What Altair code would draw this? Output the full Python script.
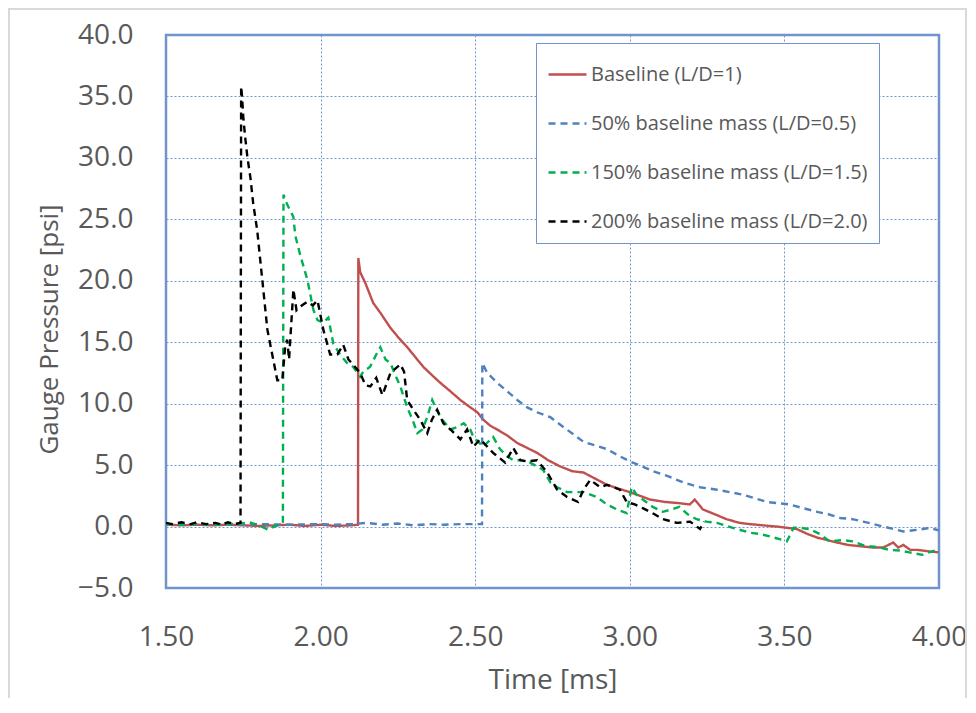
import altair as alt
import pandas as pd

# ---- data ----
series_names = [
    "Baseline (L/D=1)",
    "50% baseline mass (L/D=0.5)",
    "150% baseline mass (L/D=1.5)",
    "200% baseline mass (L/D=2.0)",
]
series_colors = ["#C0504D", "#4F81BD", "#00B050", "#000000"]
series_dash = [[1, 0], [7, 5], [7, 5], [7, 5]]

t_base = [1.50, 1.55, 1.60, 1.65, 1.70, 1.75, 1.80, 1.85, 1.90, 1.95, 2.00, 2.05, 2.10, 2.121,
          2.122, 2.128, 2.145, 2.17, 2.193, 2.225, 2.251, 2.28, 2.306, 2.332, 2.361, 2.387, 2.42,
          2.452, 2.484, 2.507, 2.526, 2.549, 2.571, 2.604, 2.636, 2.668, 2.70, 2.736, 2.774, 2.814,
          2.85, 2.888, 2.926, 2.962, 3.0, 3.033, 3.065, 3.114, 3.162, 3.194, 3.21, 3.236, 3.275,
          3.313, 3.355, 3.388, 3.43, 3.475, 3.508, 3.54, 3.574, 3.606, 3.638, 3.671, 3.706, 3.745,
          3.784, 3.82, 3.852, 3.868, 3.885, 3.907, 3.93, 3.962, 3.998]
p_base = [0.15, 0.1, 0.15, 0.1, 0.15, 0.1, 0.05, 0.1, 0.15, 0.05, 0.15, 0.05, 0.1, 0.15,
          21.85, 20.7, 19.8, 18.2, 17.4, 16.2, 15.4, 14.6, 13.8, 13.0, 12.3, 11.7, 11.0,
          10.3, 9.7, 9.3, 8.7, 8.2, 7.9, 7.4, 6.8, 6.4, 6.0, 5.4, 4.9, 4.5,
          4.4, 3.9, 3.4, 3.1, 2.8, 2.5, 2.2, 2.0, 1.9, 1.8, 2.2, 1.4, 1.0,
          0.6, 0.3, 0.2, 0.1, 0.0, -0.1, -0.2, -0.6, -0.9, -1.1, -1.3, -1.5, -1.6,
          -1.7, -1.7, -1.3, -1.7, -1.5, -1.9, -1.9, -2.0, -2.1]

t_50 = [1.50, 1.60, 1.70, 1.80, 1.90, 2.00, 2.05, 2.10, 2.15, 2.20, 2.25, 2.30, 2.35, 2.40,
        2.45, 2.50, 2.522, 2.523, 2.539, 2.571, 2.604, 2.636, 2.668, 2.70, 2.743, 2.785, 2.818,
        2.85, 2.888, 2.926, 2.962, 3.0, 3.04, 3.075, 3.123, 3.172, 3.227, 3.282, 3.323, 3.365,
        3.404, 3.443, 3.479, 3.516, 3.56, 3.606, 3.642, 3.68, 3.72, 3.755, 3.788, 3.82, 3.852,
        3.885, 3.917, 3.95, 3.97, 3.998]
p_50 = [0.2, 0.2, 0.15, 0.2, 0.15, 0.2, 0.15, 0.2, 0.3, 0.15, 0.25, 0.1, 0.2, 0.15,
        0.2, 0.2, 0.2, 13.3, 12.5, 11.7, 11.0, 10.3, 9.7, 9.3, 8.9, 8.1, 7.5,
        6.9, 6.6, 6.3, 5.8, 5.3, 4.9, 4.5, 4.1, 3.6, 3.2, 3.0, 2.8, 2.6,
        2.3, 2.0, 1.9, 1.8, 1.5, 1.2, 1.0, 0.7, 0.6, 0.4, 0.2, 0.0, -0.2,
        -0.4, -0.3, -0.2, -0.1, -0.3]

t_150 = [1.50, 1.55, 1.60, 1.65, 1.70, 1.74, 1.77, 1.80, 1.83, 1.85, 1.87, 1.878,
         1.880, 1.892, 1.912, 1.918, 1.934, 1.957, 1.977, 1.99, 2.009, 2.025, 2.041, 2.063,
         2.086, 2.105, 2.128, 2.138, 2.16, 2.18, 2.193, 2.21, 2.226, 2.242, 2.258, 2.28, 2.297,
         2.313, 2.329, 2.345, 2.361, 2.387, 2.42, 2.442, 2.463, 2.484, 2.494, 2.526, 2.558, 2.58,
         2.604, 2.623, 2.646, 2.678, 2.72, 2.743, 2.765, 2.797, 2.85, 2.894, 2.926, 2.958, 2.99,
         3.006, 3.022, 3.042, 3.074, 3.107, 3.136, 3.16, 3.187, 3.216, 3.248, 3.282, 3.333,
         3.388, 3.42, 3.453, 3.508, 3.53, 3.55, 3.58, 3.614, 3.646, 3.688, 3.72, 3.752, 3.775,
         3.807, 3.84, 3.872, 3.904, 3.946, 3.968, 3.995]
p_150 = [0.2, 0.15, 0.2, 0.15, 0.2, 0.25, 0.35, 0.1, -0.25, 0.0, 0.2, 0.3,
         27.0, 26.2, 25.2, 23.7, 22.1, 20.1, 17.6, 16.8, 16.6, 17.0, 14.9, 14.0,
         13.3, 13.0, 12.2, 12.6, 13.0, 14.0, 14.6, 13.6, 13.3, 12.3, 11.4, 9.7, 8.7,
         7.6, 7.9, 8.9, 10.3, 8.9, 7.9, 8.1, 8.4, 7.9, 7.3, 6.5, 7.3, 6.3,
         5.7, 5.4, 5.4, 5.2, 4.6, 3.6, 3.2, 2.8, 2.8, 2.4, 1.8, 1.4, 1.1,
         3.2, 2.6, 2.2, 1.6, 1.2, 1.4, 1.6, 1.0, 0.6, 0.4, 0.3, -0.1,
         -0.5, -0.6, -0.8, -1.2, -0.1, -0.1, -0.2, -0.6, -1.2, -1.1, -1.2, -1.5, -1.6,
         -1.7, -1.9, -1.95, -2.1, -2.3, -2.1, -1.9]

t_200 = [1.50, 1.52, 1.55, 1.58, 1.60, 1.63, 1.66, 1.68, 1.70, 1.72, 1.741,
         1.743, 1.746, 1.75, 1.756, 1.763, 1.773, 1.782, 1.795, 1.828, 1.86, 1.876, 1.886,
         1.892, 1.898, 1.912, 1.922, 1.934, 1.957, 1.975, 1.99, 2.009, 2.031, 2.054, 2.073,
         2.09, 2.128, 2.145, 2.161, 2.18, 2.20, 2.226, 2.258, 2.27, 2.28, 2.30, 2.322, 2.345,
         2.36, 2.377, 2.397, 2.42, 2.452, 2.474, 2.494, 2.516, 2.558, 2.597, 2.623, 2.646,
         2.668, 2.70, 2.733, 2.765, 2.797, 2.833, 2.85, 2.872, 2.904, 2.926, 2.968, 2.99,
         3.016, 3.042, 3.08, 3.107, 3.152, 3.195, 3.227, 3.24]
p_200 = [0.3, 0.2, 0.35, 0.2, 0.35, 0.2, 0.3, 0.15, 0.35, 0.2, 0.3,
         35.8, 35.0, 33.3, 31.7, 30.1, 28.4, 26.3, 24.1, 16.0, 11.9, 11.9, 14.8,
         15.2, 13.6, 19.3, 17.6, 17.9, 18.3, 18.0, 18.4, 16.0, 14.0, 14.0, 14.8,
         13.6, 12.5, 11.5, 11.4, 12.1, 10.7, 12.5, 13.2, 12.6, 10.3, 9.5, 8.7, 7.6,
         8.7, 9.5, 8.4, 7.9, 7.1, 7.9, 6.5, 7.1, 6.0, 5.2, 6.4, 5.4,
         5.3, 5.4, 4.4, 3.0, 2.4, 2.0, 3.0, 3.8, 3.2, 3.4, 3.0, 2.0,
         1.8, 1.5, 1.0, 0.6, 0.3, 0.4, -0.2, 0.4]

x_ticks = [1.5, 2.0, 2.5, 3.0, 3.5, 4.0]
y_ticks = [-5, 0, 5, 10, 15, 20, 25, 30, 35, 40]

rows = []
for name, ts, ps in zip(series_names, [t_base, t_50, t_150, t_200],
                        [p_base, p_50, p_150, p_200]):
    for i, (t, p) in enumerate(zip(ts, ps)):
        rows.append({"series": name, "t": t, "p": p, "i": i})
df = pd.DataFrame(rows)

FONT = "Open Sans"
GREY = "#595959"

legend = alt.Legend(
    title=None, orient="none", legendX=370, legendY=8,
    symbolType="stroke", symbolSize=1444, symbolStrokeWidth=2.4,
    labelFont=FONT, labelFontSize=20, labelColor=GREY, labelLimit=500,
    labelOffset=3, rowPadding=18, padding=11,
    strokeColor="#6F93CA", fillColor="white",
)

lines = alt.Chart(df).mark_line(strokeWidth=2.4, clip=True).encode(
    x=alt.X("t:Q", scale=alt.Scale(domain=[1.5, 4.0], nice=False, zero=False),
            axis=alt.Axis(values=x_ticks, format=".2f", title="Time [ms]",
                          labelPadding=35, labelFlush=False, labelOverlap=False,
                          titleY=100, titleBaseline="alphabetic", titleFontSize=28)),
    y=alt.Y("p:Q", scale=alt.Scale(domain=[-5, 40], nice=False, zero=False),
            axis=alt.Axis(values=y_ticks, format=".1f", title="Gauge Pressure [psi]",
                          labelPadding=33, labelFlush=False, labelOverlap=False,
                          titleX=-117, titleY=294, titleAngle=270,
                          titleBaseline="middle", titleFontSize=26)),
    color=alt.Color("series:N", scale=alt.Scale(domain=series_names, range=series_colors),
                    legend=legend, sort=series_names),
    strokeDash=alt.StrokeDash("series:N", scale=alt.Scale(domain=series_names, range=series_dash),
                              legend=legend, sort=series_names),
    order="i:Q",
)

border = alt.Chart(pd.DataFrame({"a": [0]})).mark_rect(
    filled=False, stroke="#D9D9D9", strokeWidth=2, clip=False
).encode(x=alt.value(-157), x2=alt.value(800), y=alt.value(-26), y2=alt.value(700))

chart = alt.layer(border, lines).properties(
    width=773, height=553,
    background="white",
    autosize=alt.AutoSizeParams(type="none"),
    padding={"left": 158, "top": 27, "right": 29, "bottom": 110},
).configure_view(
    stroke="#6F93CA", strokeWidth=2.5
).configure_axis(
    domain=False, ticks=False, grid=True, gridColor="#6F97D0", gridDash=[2, 2],
    gridWidth=1, labelFont=FONT, labelFontSize=28, labelColor=GREY,
    titleFont=FONT, titleColor=GREY, titleFontWeight="normal",
)

chart.save("out.html", embed_options={"renderer": "svg", "actions": False})
